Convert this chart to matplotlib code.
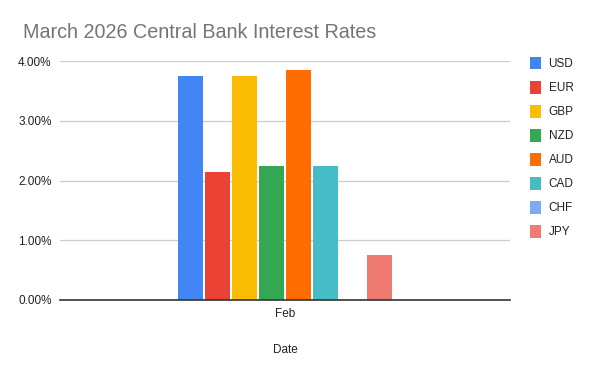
import matplotlib.pyplot as plt
from matplotlib.patches import Patch
from matplotlib.ticker import PercentFormatter

plt.rcParams["font.family"] = ["Liberation Sans", "DejaVu Sans"]

currencies = ["USD", "EUR", "GBP", "NZD", "AUD", "CAD", "CHF", "JPY"]
rates = [3.75, 2.15, 3.75, 2.25, 3.85, 2.25, 0.0, 0.75]
colors = ["#4285f4", "#ea4335", "#fbbc04", "#34a853",
          "#ff6d01", "#46bdc6", "#7baaf7", "#f07b72"]
category = "Feb"

fig = plt.figure(figsize=(5.94, 3.71), dpi=100)
ax = fig.add_axes([60 / 594, 1 - 300 / 371, 450 / 594, 239 / 371])

slot = 0.06
width = 0.055
n = len(currencies)
for i, (cur, val, col) in enumerate(zip(currencies, rates, colors)):
    x = (i - (n - 1) / 2) * slot
    ax.bar(x, val, width=width, color=col, zorder=3)

ax.set_xlim(-0.5, 0.5)
ax.set_ylim(0, 4)
ax.set_yticks([0, 1, 2, 3, 4])
ax.yaxis.set_major_formatter(PercentFormatter(decimals=2))
ax.set_xticks([0])
ax.set_xticklabels([category])
ax.tick_params(length=0, labelsize=8.5, colors="#222222", pad=6)
ax.grid(axis="y", color="#cccccc", linewidth=0.9, zorder=0)
for s in ["top", "right", "left"]:
    ax.spines[s].set_visible(False)
ax.spines["bottom"].set_color("#333333")
ax.spines["bottom"].set_linewidth(1.2)
ax.spines["bottom"].set_zorder(4)

ax.set_xlabel("Date", fontsize=8.5, color="#222222", labelpad=17)

fig.text(23 / 594, 1 - 32 / 371, "March 2026 Central Bank Interest Rates",
         fontsize=14.2, color="#757575", va="center", ha="left")

handles = [Patch(facecolor=c, edgecolor="none") for c in colors]
fig.legend(handles, currencies, loc="upper left",
           bbox_to_anchor=(519 / 594, 1 - 46 / 371),
           frameon=False, fontsize=8.5, handlelength=1.0, handleheight=1.3,
           handletextpad=0.6, labelspacing=0.9, labelcolor="#222222")

fig.savefig("out.png", dpi=100)
